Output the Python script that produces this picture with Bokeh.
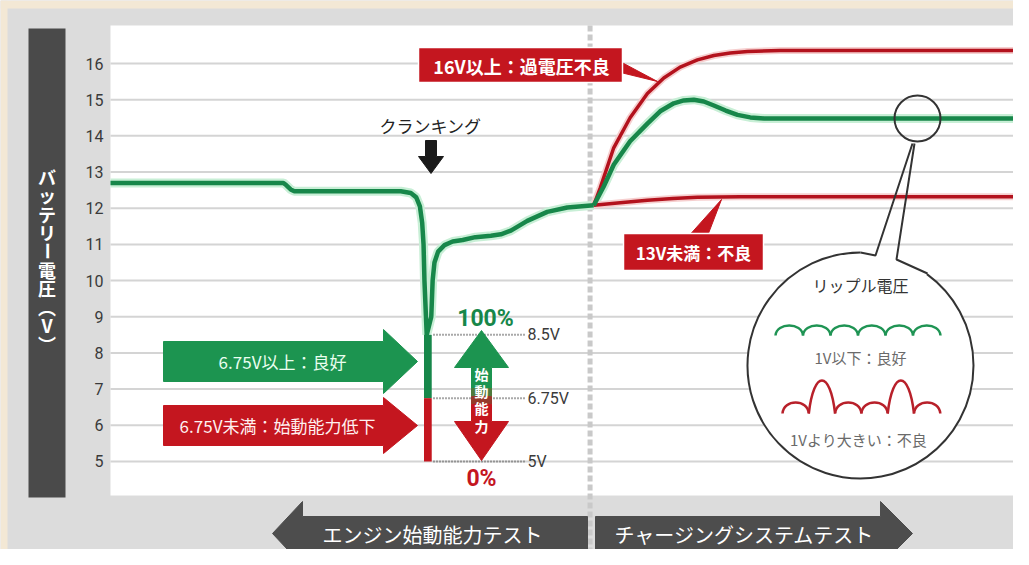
import re
import math
from bokeh.plotting import figure
from bokeh.models import Range1d
from bokeh.core.properties import value
from bokeh.embed import file_html
from bokeh.resources import INLINE

# ---------------- data ----------------
volt_ticks = [5, 6, 7, 8, 9, 10, 11, 12, 13, 14, 15, 16]
volt_tick_labels = ["5", "6", "7", "8", "9", "10", "11", "12", "13", "14", "15", "16"]

# engine start test: battery voltage over time (good battery)
start_time = [0.0, 19.0, 19.3, 19.8, 20.2, 31.9, 33.0, 33.6, 34.0, 34.25, 34.4, 34.5, 34.75,
              35.25, 35.4, 35.6, 36.0, 36.7, 37.6, 38.7, 40.1, 41.8, 42.9, 44.0, 45.8, 48.0, 50.2, 53.1]
start_volt = [12.7, 12.7, 12.64, 12.52, 12.47, 12.47, 12.42, 12.3, 12.05, 11.6, 11.0, 10.0, 8.5,
              9.0, 10.0, 10.5, 10.8, 10.98, 11.08, 11.12, 11.2, 11.24, 11.28, 11.38, 11.65, 11.9, 12.02, 12.08]

# charging system test
charge_time = [53.1, 54.2, 55.3, 57.1, 59.0, 60.4, 61.9, 63.0, 64.1, 65.2, 66.3, 67.6, 68.9, 70.3, 71.8, 100.0]
charge_volt = [12.08, 12.6, 13.2, 13.85, 14.34, 14.68, 14.9, 14.98, 15.0, 14.95, 14.84, 14.7, 14.58, 14.51, 14.48, 14.48]

over_time = [53.1, 53.8, 55.3, 57.1, 59.0, 60.8, 62.6, 64.5, 66.3, 68.1, 70.0, 73.6, 100.0]
over_volt = [12.08, 12.55, 13.67, 14.5, 15.17, 15.6, 15.9, 16.1, 16.22, 16.29, 16.33, 16.36, 16.36]

under_time = [53.1, 56.0, 59.0, 61.8, 64.5, 69.2, 100.0]
under_volt = [12.08, 12.15, 12.22, 12.27, 12.3, 12.32, 12.32]

test_switch_time = 52.7
crank_time = [34.45, 35.3]
crank_min_volt = 5.0
crank_limit_volt = 6.75
crank_full_volt = 8.5
level_labels = ["8.5V", "6.75V", "5V"]

ripple_good = [1, 1, 1, 1, 1, 1]
ripple_bad = [1, 3, 1, 1, 3, 1]

y_title = ["バ", "ッ", "テ", "リ", "ー", "電", "圧", "︵", "V", "︶"]

# ---------------- layout helpers (page pixels -> data) ----------------
PX0, PXT = 110.0, 9.1
PY16, PYV = 63.0, 36.18


def tx(px):
    return (px - PX0) / PXT


def vy(py):
    return 16 - (py - PY16) / PYV


GREEN = "#1c9450"
RED = "#c4161f"
LGREEN = "#17874a"
LRED = "#b3121d"
CJK = "Noto Sans CJK JP"
PANEL = "#dcdcdc"
CREAM = "#f3e8d5"
W, H = 1013, 549

p = figure(width=W, height=H, x_range=Range1d(tx(0), tx(W)), y_range=Range1d(vy(H), vy(0)),
           output_backend="svg", toolbar_location=None, title=None,
           x_axis_location=None, y_axis_location=None,
           min_border_left=0, min_border_right=0, min_border_top=0, min_border_bottom=0,
           background_fill_color=PANEL, border_fill_color=PANEL, outline_line_color=None)
p.grid.visible = False


def poly(pts, color):
    p.patch(x=[tx(a) for a, b in pts], y=[vy(b) for a, b in pts], fill_color=color,
            line_color=color, line_width=1)


def rect(x0, x1, y0, y1, color, **kw):
    p.quad(left=tx(x0), right=tx(x1), top=vy(y0), bottom=vy(y1), fill_color=color,
           line_color=kw.pop("line_color", None), **kw)


def txt(px, py, s, size, color, font=CJK, style="normal", align="center", angle=0.0):
    p.text(x=[tx(px)], y=[vy(py)], text=[s], text_font=value(font), text_font_size=f"{size}px",
           text_color=color, text_font_style=style, text_align=align, text_baseline="middle", angle=angle)


# page frame: cream edge, title bar, white plot area
rect(0, 7, 0, H, CREAM)
rect(0, W, 0, 8, CREAM)
rect(28, 65, 28, 497, "#4a4a4a")
for i, ch in enumerate(y_title):
    txt(46.5, 176 + i * 18.6, ch, 18, "white", style="bold", angle=(math.pi / 2 if ch == "ー" else 0.0))
rect(110, 1020, 25, 495, "white")

# y grid + tick labels through the voltage scale
n = len(volt_ticks)
p.segment(x0=[tx(110)] * n, x1=[tx(1020)] * n, y0=volt_ticks, y1=volt_ticks,
          line_color="#d4d4d4", line_width=2)
p.text(x=[tx(103)] * n, y=volt_ticks, text=volt_tick_labels, text_font=value("Roboto"),
       text_font_size="16px", text_color="#3a3a3a", text_align="right", text_baseline="middle")

# divider between the two tests
p.segment(x0=[test_switch_time], y0=[vy(25)], x1=[test_switch_time], y1=[vy(H)],
          line_color="#c9c9c9", line_width=5, line_dash="6 3")

# level dotted lines
for lv, lab in zip([crank_full_volt, crank_limit_volt, crank_min_volt], level_labels):
    p.segment(x0=[tx(433)], y0=[lv], x1=[tx(524)], y1=[lv], line_color="#555555", line_width=2, line_dash="1 2")
    txt(527, PY16 + (16 - lv) * PYV, lab, 16, "#3a3a3a", font="Roboto", align="left")

# curves (halo + line)
p.line(start_time, start_volt, line_color="#c8efd6", line_width=9)
p.line(charge_time, charge_volt, line_color="#c8efd6", line_width=9)
p.line(over_time, over_volt, line_color="#f6cfcf", line_width=7)
p.line(under_time, under_volt, line_color="#f6cfcf", line_width=7)
p.line(over_time, over_volt, line_color=LRED, line_width=3.5)
p.line(under_time, under_volt, line_color=LRED, line_width=3.5)
p.line(start_time, start_volt, line_color=LGREEN, line_width=4.5)
p.line(charge_time, charge_volt, line_color=LGREEN, line_width=4.5)

# crank minimum bar
p.quad(left=crank_time[0], right=crank_time[1], bottom=crank_limit_volt, top=crank_full_volt,
       fill_color=LGREEN, line_color=None)
p.quad(left=crank_time[0], right=crank_time[1], bottom=crank_min_volt, top=crank_limit_volt,
       fill_color=RED, line_color=None)

# crank label + arrow
txt(430, 125, "クランキング", 17, "#222222")
poly([(425, 140), (436, 140), (436, 156), (443, 156), (430.5, 173), (418, 156), (425, 156)], "#1a1a1a")

# left arrows
poly([(163, 341), (383, 341), (383, 329), (417, 361), (383, 393), (383, 381), (163, 381)], GREEN)
poly([(163, 405), (383, 405), (383, 397), (417, 425), (383, 453), (383, 445), (163, 445)], RED)
txt(282, 361, "6.75V以上：良好", 17, "#eafff0")
txt(277, 425, "6.75V未満：始動能力低下", 17, "#fff0f0")

# double arrow 始動能力
poly([(481, 330), (508, 367), (491, 367), (491, 388), (471, 388), (471, 367), (454, 367)], GREEN)
poly([(471, 388), (491, 388), (491, 396), (471, 396)], "#4f7a3c")
poly([(471, 396), (491, 396), (491, 404), (471, 404)], "#96392b")
poly([(471, 404), (491, 404), (491, 421), (508, 421), (481, 460), (454, 421), (471, 421)], RED)
for ch, yy in zip("始動能力", [373, 390, 407, 425]):
    txt(481, yy, ch, 14, "white", style="bold")
txt(485, 318, "100%", 23, LGREEN, font="Roboto", style="bold")
txt(481, 478, "0%", 23, RED, font="Roboto", style="bold")

# 16V box
poly([(612, 57), (612, 70), (657, 81)], RED)
rect(418, 622, 47, 82, RED, line_color="white", line_width=1.5)
txt(521, 65, "16V以上：過電圧不良", 18, "white", style="bold")

# 13V box
poly([(686, 238), (706, 238), (721, 199)], RED)
rect(623, 763, 233, 270, RED, line_color="white", line_width=1.5)
txt(693, 252, "13V未満：不良", 17, "white", style="bold")

# ripple bubble
cx, cy, r = 860, 365, 113
p.scatter(x=[tx(cx)], y=[vy(cy)], size=2 * r, marker="circle", fill_color="white", line_color=None)
p.arc(x=[tx(cx)], y=[vy(cy)], radius=r, radius_units="screen", start_angle=math.radians(90),
      end_angle=math.radians(54), direction="anticlock", line_color="#333333", line_width=2)
p.line([tx(912), tx(875), tx(860)], [vy(143), vy(255), vy(252)], line_color="#333333", line_width=2)
p.line([tx(914), tx(896), tx(927)], [vy(143), vy(259), vy(273)], line_color="#333333", line_width=2)
p.scatter(x=[tx(917)], y=[vy(118)], size=46, marker="circle", fill_color=None, line_color="#333333", line_width=2)

txt(860, 284, "リップル電圧", 16, "#333333")
txt(860, 357, "1V以下：良好", 15, "#6a6a6a")
txt(858, 439, "1Vより大きい：不良", 15, "#6a6a6a")


def ripple(amps, x_start, width, base, unit_h, color):
    for i, a in enumerate(amps):
        x0 = x_start + i * width
        x1 = x0 + width
        h = a * unit_h * 4.0 / 3.0
        inset = 1 if a == 1 else 5
        p.bezier(x0=[tx(x0)], y0=[vy(base)], x1=[tx(x1)], y1=[vy(base)],
                 cx0=[tx(x0 + inset)], cy0=[vy(base - h)], cx1=[tx(x1 - inset)], cy1=[vy(base - h)],
                 line_color=color, line_width=2.5)


ripple(ripple_good, 775, 27.5, 335, 10, "#1f9454")
ripple(ripple_bad, 782, 26.3, 413, 11, "#b8202a")

# bottom arrows
poly([(272, 533), (302, 501), (302, 516), (587, 516), (587, 551), (302, 551), (302, 565)], "#4d4d4d")
poly([(595, 516), (880, 516), (880, 501), (912, 533), (880, 565), (880, 551), (595, 551)], "#4d4d4d")
txt(432, 534, "エンジン始動能力テスト", 20, "white")
txt(744, 534, "チャージングシステムテスト", 20, "white")

html = file_html(p, INLINE, title="バッテリー電圧")
html = re.sub(r"<body([^>]*)>", lambda m: '<body%s style="background-color:%s;">' % (m.group(1), PANEL), html, count=1)
open("out.html", "w").write(html)
